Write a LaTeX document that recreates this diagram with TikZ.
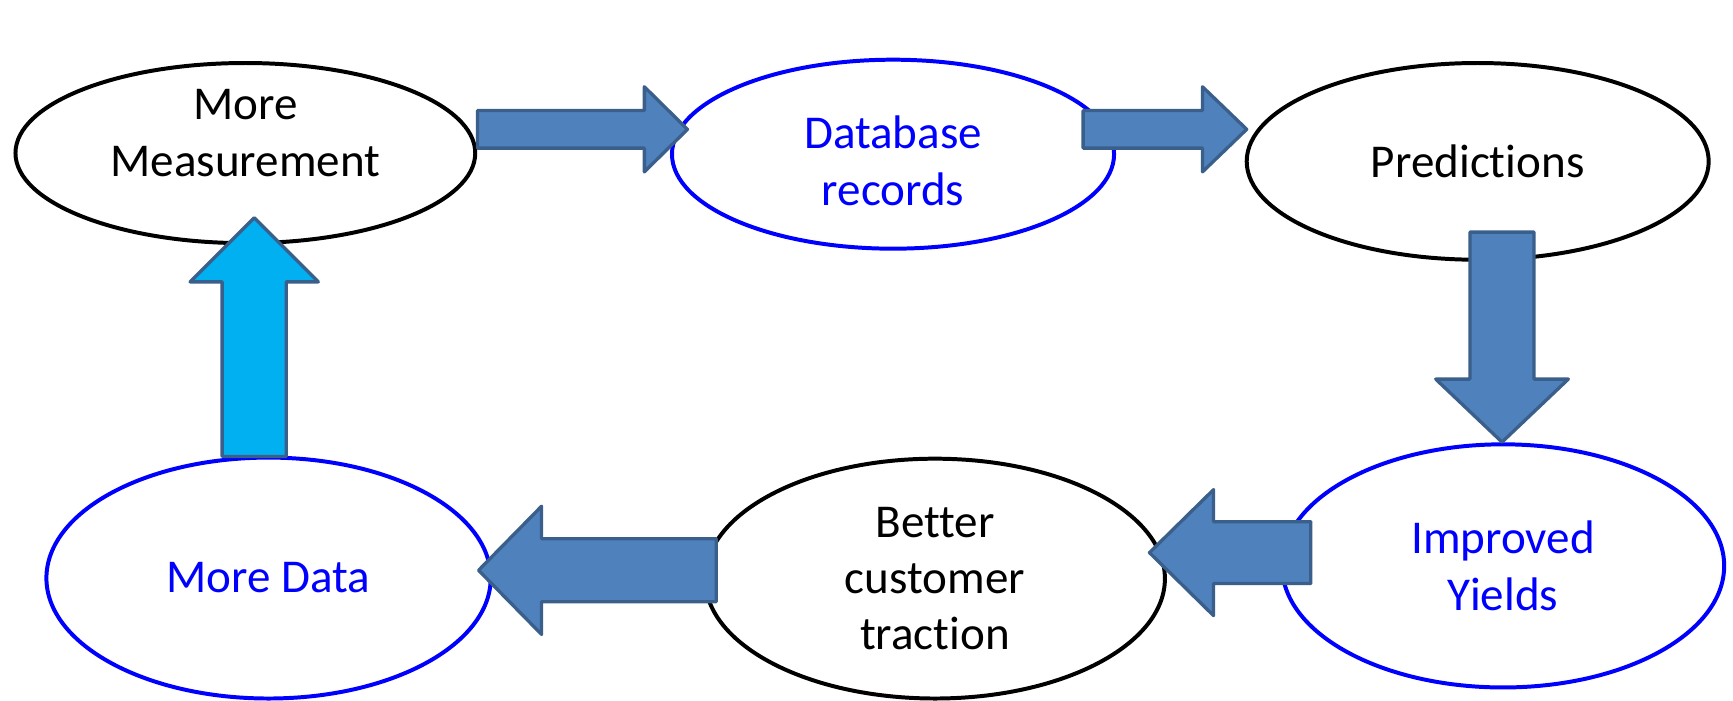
\documentclass[tikz,border=0pt]{standalone}
\usepackage{fontspec}
\setmainfont{Carlito}[Ligatures={NoCommon,NoContextual}]
\usetikzlibrary{calc,shapes.geometric}
\definecolor{arrowfill}{HTML}{4F81BD}
\definecolor{arrowline}{HTML}{3A5F8B}
\definecolor{cyanfill}{HTML}{00B0F0}
\definecolor{pureblue}{HTML}{0000FF}

\tikzset{
  bubble/.style={ellipse, line width=1.8pt, fill=white, inner sep=0pt},
  blackbubble/.style={bubble, draw=black},
  bluebubble/.style={bubble, draw=pureblue},
  caption/.style={align=center, inner sep=0pt, font=\fontsize{21.3pt}{25.5pt}\selectfont},
  bluecaption/.style={caption, text=pureblue},
  blockarrow/.style={draw=arrowline, line width=1.5pt, line join=round, fill=arrowfill},
  cyanarrow/.style={blockarrow, fill=cyanfill},
}

% block arrow: #1 style, #2 tail, #3 tip, #4 half shaft width, #5 half head width, #6 head length
\newcommand\fatarrow[6][blockarrow]{%
  \path ($(#3)!#6!(#2)$) coordinate (hb);
  \draw[#1] ($(#2)!#4!90:(#3)$) -- ($(hb)!#4!90:(#3)$) -- ($(hb)!#5!90:(#3)$)
    -- (#3) -- ($(hb)!#5!-90:(#3)$) -- ($(hb)!#4!-90:(#3)$) -- ($(#2)!#4!-90:(#3)$) -- cycle;
}

\begin{document}
\begin{tikzpicture}[x=0.5pt, y=-0.5pt]
  \useasboundingbox (0,0) rectangle (1568,634);

  % stages of the cycle
  \node[blackbubble, minimum width=208pt, minimum height=81.5pt,
        label={[caption, yshift=9pt]center:More\\Measurement}] (meas) at (222,138.5) {};
  \node[bluebubble, minimum width=200pt, minimum height=85.5pt,
        label={[bluecaption, yshift=-3pt]center:Database\\records}] (db) at (808,139.5) {};
  \node[blackbubble, minimum width=209pt, minimum height=89pt,
        label={[caption]center:Predictions}] (pred) at (1337,146) {};
  \node[bluebubble, minimum width=200pt, minimum height=110pt,
        label={[bluecaption]center:Improved\\Yields}] (yield) at (1360,512) {};
  \node[blackbubble, minimum width=208pt, minimum height=108.5pt,
        label={[caption]center:Better\\customer\\traction}] (cust) at (846,523.5) {};
  \node[bluebubble, minimum width=201pt, minimum height=109pt,
        label={[bluecaption]center:More Data}] (data) at (243,523) {};

  % arrow end points
  \coordinate (a1) at (432,117);   \coordinate (a2) at (622,117);
  \coordinate (b1) at (980,117);   \coordinate (b2) at (1128,117);
  \coordinate (c1) at (1359,210);  \coordinate (c2) at (1359,400);
  \coordinate (d1) at (1186,500);  \coordinate (d2) at (1040,500);
  \coordinate (e1) at (648,516);   \coordinate (e2) at (433,516);
  \coordinate (f1) at (230,413);   \coordinate (f2) at (230,197);

  % block arrows between the stages
  \fatarrow{a1}{a2}{8.5pt}{19.25pt}{19.5pt}
  \fatarrow{b1}{b2}{8.5pt}{19.25pt}{20pt}
  \fatarrow{c1}{c2}{14.5pt}{30pt}{28.5pt}
  \fatarrow{d1}{d2}{14pt}{28.5pt}{29pt}
  \fatarrow{e1}{e2}{14.25pt}{29pt}{28.5pt}
  \fatarrow[cyanarrow]{f1}{f2}{14.5pt}{29pt}{29pt}
\end{tikzpicture}
\end{document}
